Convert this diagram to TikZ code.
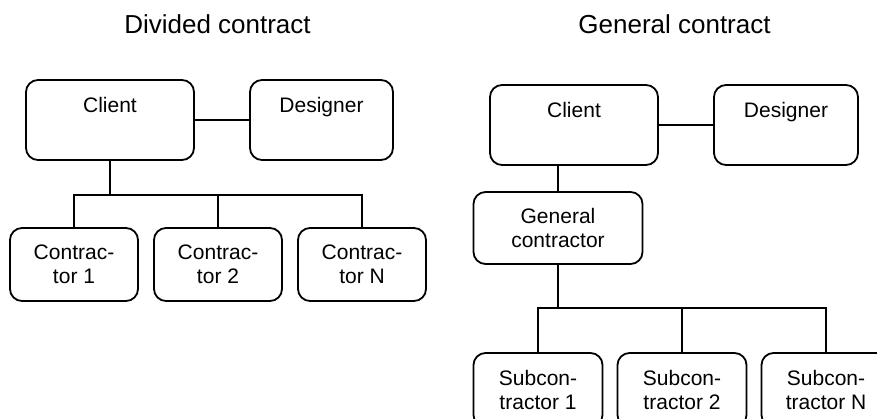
\documentclass[tikz,border=0pt]{standalone}
\usepackage{fontspec}
\setmainfont{Liberation Sans}
\usepackage{tikz}
\usetikzlibrary{positioning}

\begin{document}
\begin{tikzpicture}[x=1pt,y=-1pt]
\tikzstyle{party} = [
	shape=rectangle,
	draw=black, %outline of the box
	line width=1.8pt,
	rounded corners=12pt,
	inner sep=0pt,
	align=center,
	font=\fontsize{21pt}{24pt}\selectfont
];
\tikzstyle{toptext} = [
	text height=15pt, %push the text to the upper part
	text depth=29pt
];
\tikzstyle{heading} = [
	anchor=base,
	inner sep=0pt,
	font=\fontsize{26pt}{30pt}\selectfont
];
\tikzstyle{link} = [line width=1.8pt];

\useasboundingbox (0,0) rectangle (877,419);
\clip (0,0) rectangle (877,419);

% divided contract
\begin{scope}[shift={(0,0)}]
	\node[heading](TitleA) at (217.5, 34) {Divided contract};
	\node[party,toptext,minimum width=168pt,minimum height=80pt](ClientA) at (110, 120) {Client};
	\node[party,toptext,minimum width=143pt,minimum height=80pt](DesignerA) at (321.5, 120) {Designer};
	\node[party,minimum width=128pt,minimum height=73pt](ContrA1) at (74, 264.5) {Contrac-\\tor 1};
	\node[party,minimum width=128pt,minimum height=73pt](ContrA2) at (218, 264.5) {Contrac-\\tor 2};
	\node[party,minimum width=128pt,minimum height=73pt](ContrAN) at (362, 264.5) {Contrac-\\tor N};
	\coordinate (busA) at (110, 195);
\end{scope}

\draw [link] (ClientA) to[] (DesignerA);
\draw [link] (ClientA) to[] (busA);
\draw [link] (ContrA1.north) -- (ContrA1.north |- busA) -- (ContrAN.north |- busA) -- (ContrAN.north);
\draw [link] (ContrA2.north) -- (ContrA2.north |- busA);

% general contract
\begin{scope}[shift={(0,0)}]
	\node[heading](TitleB) at (674.5, 34) {General contract};
	\node[party,toptext,minimum width=168pt,minimum height=80pt](ClientB) at (574, 125) {Client};
	\node[party,toptext,minimum width=144pt,minimum height=80pt](DesignerB) at (786, 125) {Designer};
	\node[party,minimum width=169pt,minimum height=72pt](GenContr) at (558, 228) {General\\contractor};
	\node[party,minimum width=129pt,minimum height=74pt](SubB1) at (538, 390) {Subcon-\\tractor 1};
	\node[party,minimum width=129pt,minimum height=74pt](SubB2) at (682, 390) {Subcon-\\tractor 2};
	\node[party,minimum width=129pt,minimum height=74pt](SubBN) at (826, 390) {Subcon-\\tractor N};
	\coordinate (busB) at (558, 308);
\end{scope}

\draw [link] (ClientB) to[] (DesignerB);
\draw [link] (GenContr.north) -- (GenContr.north |- ClientB.south);
\draw [link] (GenContr) to[] (busB);
\draw [link] (SubB1.north) -- (SubB1.north |- busB) -- (SubBN.north |- busB) -- (SubBN.north);
\draw [link] (SubB2.north) -- (SubB2.north |- busB);

\end{tikzpicture}
\end{document}
